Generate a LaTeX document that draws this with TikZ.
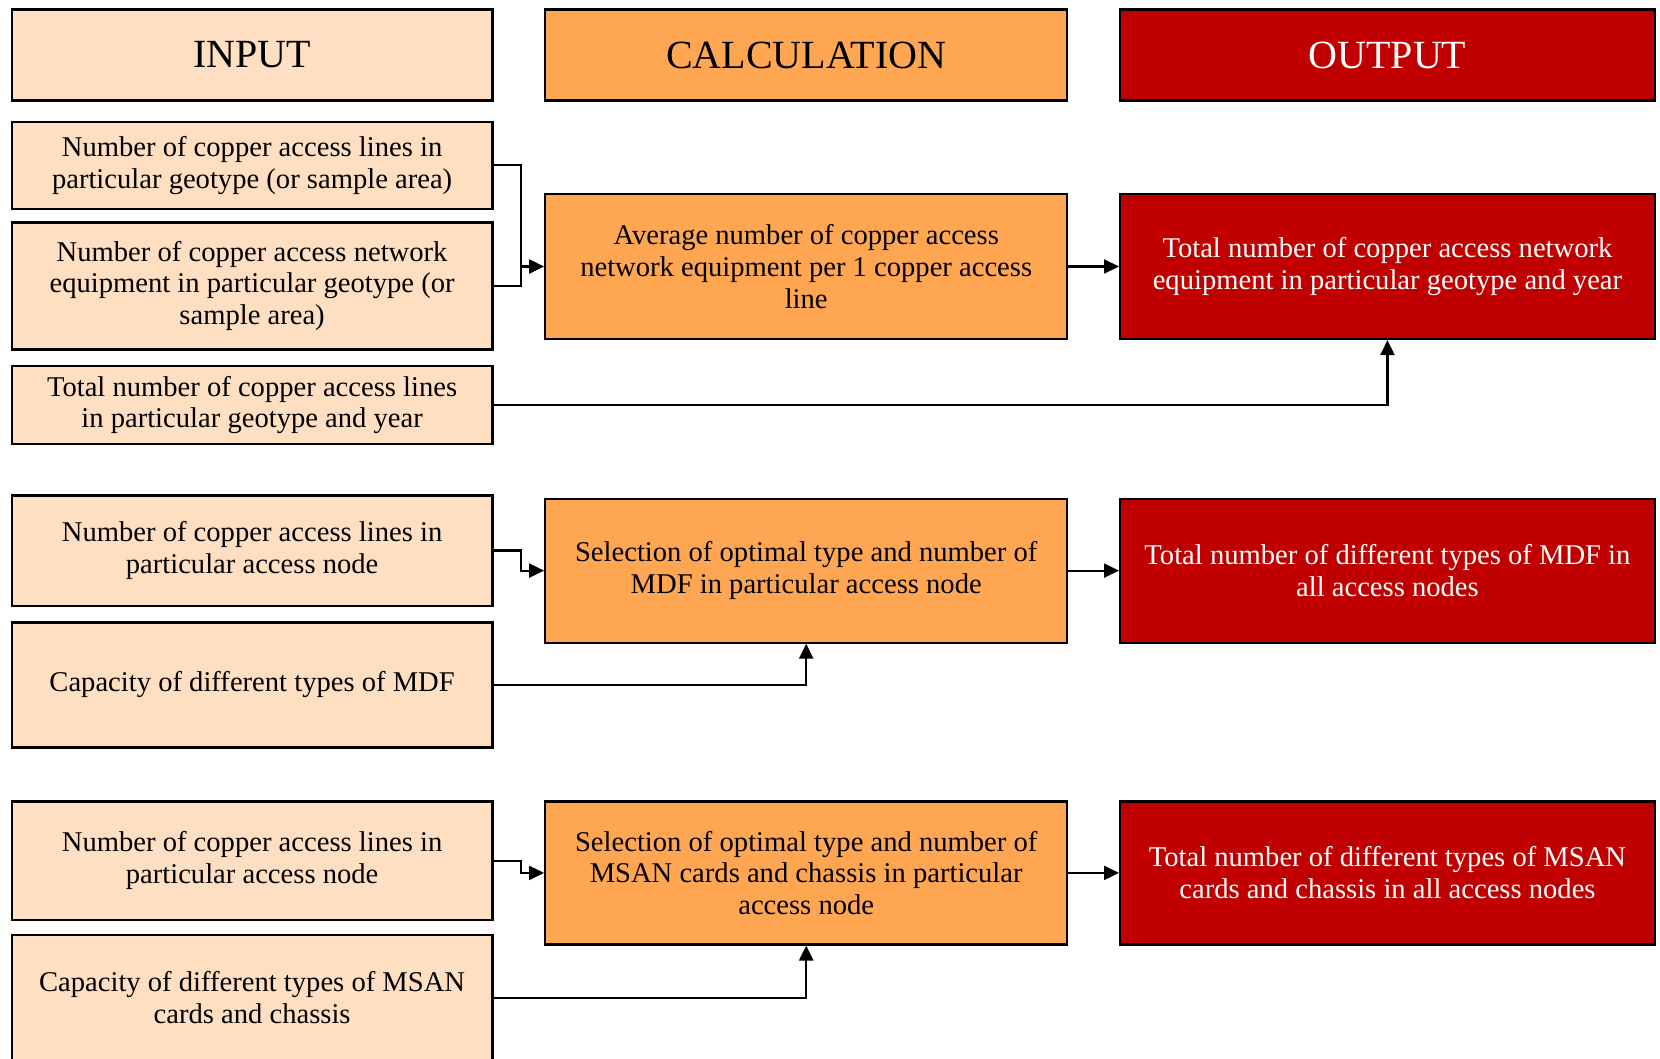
\documentclass[tikz,border=0pt]{standalone}
\usepackage{fontspec}
\setmainfont{Liberation Serif}
\usetikzlibrary{arrows.meta}
\definecolor{inputfill}{RGB}{255,223,193}
\definecolor{calcfill}{RGB}{255,166,82}
\definecolor{outfill}{RGB}{192,0,0}
\begin{document}
\begin{tikzpicture}[x=1pt,y=-1pt,
  box/.style={draw=black, line width=2.2pt, align=center, inner sep=0pt,
    font=\fontsize{28.6}{31.8}\selectfont},
  inbox/.style={box, fill=inputfill, minimum width=480.8pt},
  calcbox/.style={box, fill=calcfill, minimum width=522pt},
  outbox/.style={box, fill=outfill, text=white, minimum width=534.7pt},
  head/.style={font=\fontsize{40}{44}\selectfont, minimum height=91pt},
  conn/.style={draw=black, line width=2.2pt},
  arr/.style={conn, -{Triangle[length=15pt,width=14pt]}}
]
\useasboundingbox (0,0) rectangle (1660,1059);
\clip (0,0) rectangle (1660,1059);

% column headers
\node[inbox, head] (hin) at (252.1,55) {INPUT};
\node[calcbox, head] (hcalc) at (806.2,55) {CALCULATION};
\node[outbox, head] (hout) at (1387.45,55) {OUTPUT};

% block 1: access network equipment
\node[inbox, minimum height=87.1pt] (a1) at (252.1,165.25)
  {Number of copper access lines in\\particular geotype (or sample area)};
\node[inbox, minimum height=126.9pt] (a2) at (252.1,285.95)
  {Number of copper access network\\equipment in particular geotype (or\\sample area)};
\node[inbox, minimum height=77.3pt] (a3) at (252.1,404.95)
  {Total number of copper access lines\\in particular geotype and year};
\node[calcbox, minimum height=145pt] (c1) at (806.2,266.5)
  {Average number of copper access\\network equipment per 1 copper access\\line};
\node[outbox, minimum height=145pt] (o1) at (1387.45,266.5)
  {Total number of copper access network\\equipment in particular geotype and year};

% block 2: MDF
\node[inbox, minimum height=110.1pt] (b1) at (252.1,550.55)
  {Number of copper access lines in\\particular access node};
\node[inbox, minimum height=125pt] (b2) at (252.1,685)
  {Capacity of different types of MDF};
\node[calcbox, minimum height=144pt] (c2) at (806.2,570.6)
  {Selection of optimal type and number of\\MDF in particular access node};
\node[outbox, minimum height=144pt] (o2) at (1387.45,570.6)
  {Total number of different types of MDF in\\all access nodes};

% block 3: MSAN
\node[inbox, minimum height=118.6pt] (d1) at (252.1,860.7)
  {Number of copper access lines in\\particular access node};
\node[inbox, minimum height=126.2pt] (d2) at (252.1,997.9)
  {Capacity of different types of MSAN\\cards and chassis};
\node[calcbox, minimum height=143pt] (c3) at (806.2,872.9)
  {Selection of optimal type and number of\\MSAN cards and chassis in particular\\access node};
\node[outbox, minimum height=143pt] (o3) at (1387.45,872.9)
  {Total number of different types of MSAN\\cards and chassis in all access nodes};

% connectors, block 1
\draw[arr] (a1.east) -- ++(27,0) coordinate (j1) |- (c1.west);
\draw[conn] (a2.east) -- (a2.east -| j1) -- (j1 |- c1.west);
\draw[arr] (c1.east) -- (o1.west);
\draw[arr] (a3.east) -| (o1.south);

% connectors, block 2
\draw[arr] (b1.east) -- ++(27,0) coordinate (j2) |- (c2.west);
\draw[arr] (c2.east) -- (o2.west);
\draw[arr] (b2.east) -| (c2.south);

% connectors, block 3
\draw[arr] (d1.east) -- ++(27,0) coordinate (j3) |- (c3.west);
\draw[arr] (c3.east) -- (o3.west);
\draw[arr] (d2.east) -| (c3.south);
\end{tikzpicture}
\end{document}
